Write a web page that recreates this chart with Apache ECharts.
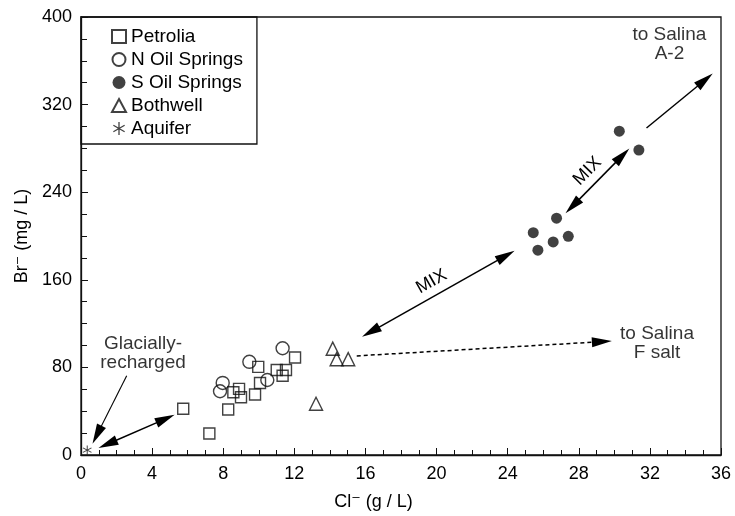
<!DOCTYPE html>
<html>
<head>
<meta charset="utf-8">
<script src="https://cdn.jsdelivr.net/npm/echarts@6/dist/echarts.min.js"></script>
<style>
  html, body { margin: 0; padding: 0; background: #fff; }
  #chart { width: 735px; height: 516px; }
</style>
</head>
<body>
<div id="chart"></div>
<script>
  // Cl- (g/L), Br- (mg/L)
  const petrolia = [[5.75, 42.3], [7.22, 19.6], [8.28, 41.6], [8.57, 57.3], [8.89, 60.4], [9.0, 52.8], [9.79, 55.2],
    [10.07, 65.8], [9.97, 80.5], [11.01, 77.6], [11.34, 72.4], [11.53, 77.6], [12.04, 89]];
  const nOilSprings = [[7.82, 58.2], [7.97, 65.8], [9.47, 85.1], [10.48, 68.5], [11.34, 97.5]];
  const sOilSprings = [[30.28, 295.7], [31.38, 278.5], [26.75, 216.3], [25.44, 203], [26.56, 194.6], [27.41, 199.7], [25.7, 187.1]];
  const bothwell = [[14.16, 97.1], [14.38, 87.5], [15.03, 87.5], [13.22, 46.8]];
  const aquifer = [[0.35, 4.5]];

  // annotation arrows [from, to]
  const glacialArrow = [[2.57, 72.4], [0.9, 18.5]];
  const rechargeArrow = [[1.5, 10], [4.75, 33]];
  const mixLower = [[16.3, 112.5], [23.9, 182]];
  const mixUpper = [[27.65, 227.3], [30.45, 273.4]];
  const toSalinaA2 = [[31.81, 298.6], [35.1, 342.5]];
  const toSalinaF = [[15.51, 90.5], [29.3, 103.5]];

  const noteText = ['to Salina\nA-2', 'to Salina\nF salt', 'Glacially-\nrecharged'];
  const noteX = [33.1, 32.4, 3.49];
  const noteY = [375, 102, 92.5];

  const ink = '#000';
  const font = 'Liberation Sans, Arial, DejaVu Sans, sans-serif';
  const head = 'path://M0,0L5,20L-5,20Z';
  const headSize = [10, 20];
  const asterisk = 'path://M-1,-10L1,-10L1,10L-1,10Z M8.16,-5.87L9.16,-4.13L-8.16,5.87L-9.16,4.13Z M-9.16,-4.13L-8.16,-5.87L9.16,4.13L8.16,5.87Z';

  function arrow(pts, both, dashed, text, width) {
    return {
      silent: true, animation: false, precision: 4,
      symbol: [both ? head : 'none', head], symbolSize: headSize,
      data: [[{ coord: pts[0] }, { coord: pts[1] }]],
      lineStyle: { color: ink, width: width || 1.5, type: dashed ? [4, 3] : 'solid' },
      label: text ? {
        show: true, position: 'middle', formatter: text, color: ink, fontFamily: font, fontSize: 18,
        backgroundColor: '#fff', padding: [0, 3],
      } : { show: false },
    };
  }

  const arrows = [
    arrow(glacialArrow, false, false, null, 1.1),
    arrow(rechargeArrow, true, false),
    arrow(mixLower, true, false, 'MIX'),
    arrow(mixUpper, true, false, 'MIX'),
    arrow(toSalinaA2, false, false),
    arrow(toSalinaF, false, true),
  ];

  const hollow = { color: 'rgba(0,0,0,0)', borderColor: '#111', borderWidth: 1.4 };

  const chart = echarts.init(document.getElementById('chart'));
  chart.setOption({
    animation: false,
    textStyle: { fontFamily: font },
    grid: { left: 81, right: 14, top: 17, bottom: 51, show: true, borderColor: '#111', borderWidth: 1.3 },
    legend: {
      data: ['Petrolia', 'N Oil Springs', 'S Oil Springs', 'Bothwell', 'Aquifer'],
      orient: 'vertical', left: 81, top: 17,
      padding: [10, 14, 6, 30], itemGap: 4, itemWidth: 14, itemHeight: 13,
      borderColor: '#111', borderWidth: 1.3,
      textStyle: { fontSize: 19, color: ink, fontFamily: font },
    },
    xAxis: {
      type: 'value', min: 0, max: 36, interval: 4,
      name: 'Cl⁻ (g / L)', nameLocation: 'middle', nameGap: 38,
      nameTextStyle: { fontSize: 18, color: ink, padding: [0, 55, 0, 0] },
      axisLine: { lineStyle: { color: '#111', width: 1.3 } },
      axisTick: { inside: true, length: 7, lineStyle: { color: '#111' } },
      minorTick: { show: true, splitNumber: 4, length: 5, lineStyle: { color: '#111' } },
      axisLabel: { fontSize: 18, color: ink, margin: 10 },
      splitLine: { show: false },
    },
    yAxis: {
      type: 'value', min: 0, max: 400, interval: 80,
      name: 'Br⁻ (mg / L)', nameLocation: 'middle', nameGap: 48,
      nameTextStyle: { fontSize: 18, color: ink },
      axisLine: { lineStyle: { color: '#111', width: 1.3 } },
      axisTick: { inside: true, length: 7, lineStyle: { color: '#111' } },
      minorTick: { show: true, splitNumber: 4, length: 6, lineStyle: { color: '#111' } },
      axisLabel: { fontSize: 18, color: ink, margin: 9 },
      splitLine: { show: false },
    },
    series: [
      { name: 'Petrolia', type: 'scatter', symbol: 'rect', symbolSize: 11, itemStyle: hollow, data: petrolia, z: 3 },
      { name: 'N Oil Springs', type: 'scatter', symbol: 'circle', symbolSize: 13, itemStyle: hollow, data: nOilSprings, z: 3 },
      { name: 'S Oil Springs', type: 'scatter', symbol: 'circle', symbolSize: 11, itemStyle: { color: '#111' }, data: sOilSprings, z: 3 },
      { name: 'Bothwell', type: 'scatter', symbol: 'triangle', symbolSize: 13, itemStyle: hollow, data: bothwell, z: 3 },
      { name: 'Aquifer', type: 'scatter', symbol: asterisk, symbolSize: 9, itemStyle: { color: '#111' }, data: aquifer, z: 3 },
      ...arrows.map((m, i) => ({ name: 'arrow' + i, type: 'scatter', data: [], silent: true, markLine: m })),
      {
        name: 'notes', type: 'scatter', symbolSize: 0, silent: true,
        data: noteText.map((t, i) => ({ name: t, value: [noteX[i], noteY[i]] })),
        label: {
          show: true, position: 'inside', formatter: '{b}', fontSize: 19, lineHeight: 19,
          color: ink, textBorderWidth: 0, fontFamily: font,
        },
      },
    ],
  });
</script>
</body>
</html>
